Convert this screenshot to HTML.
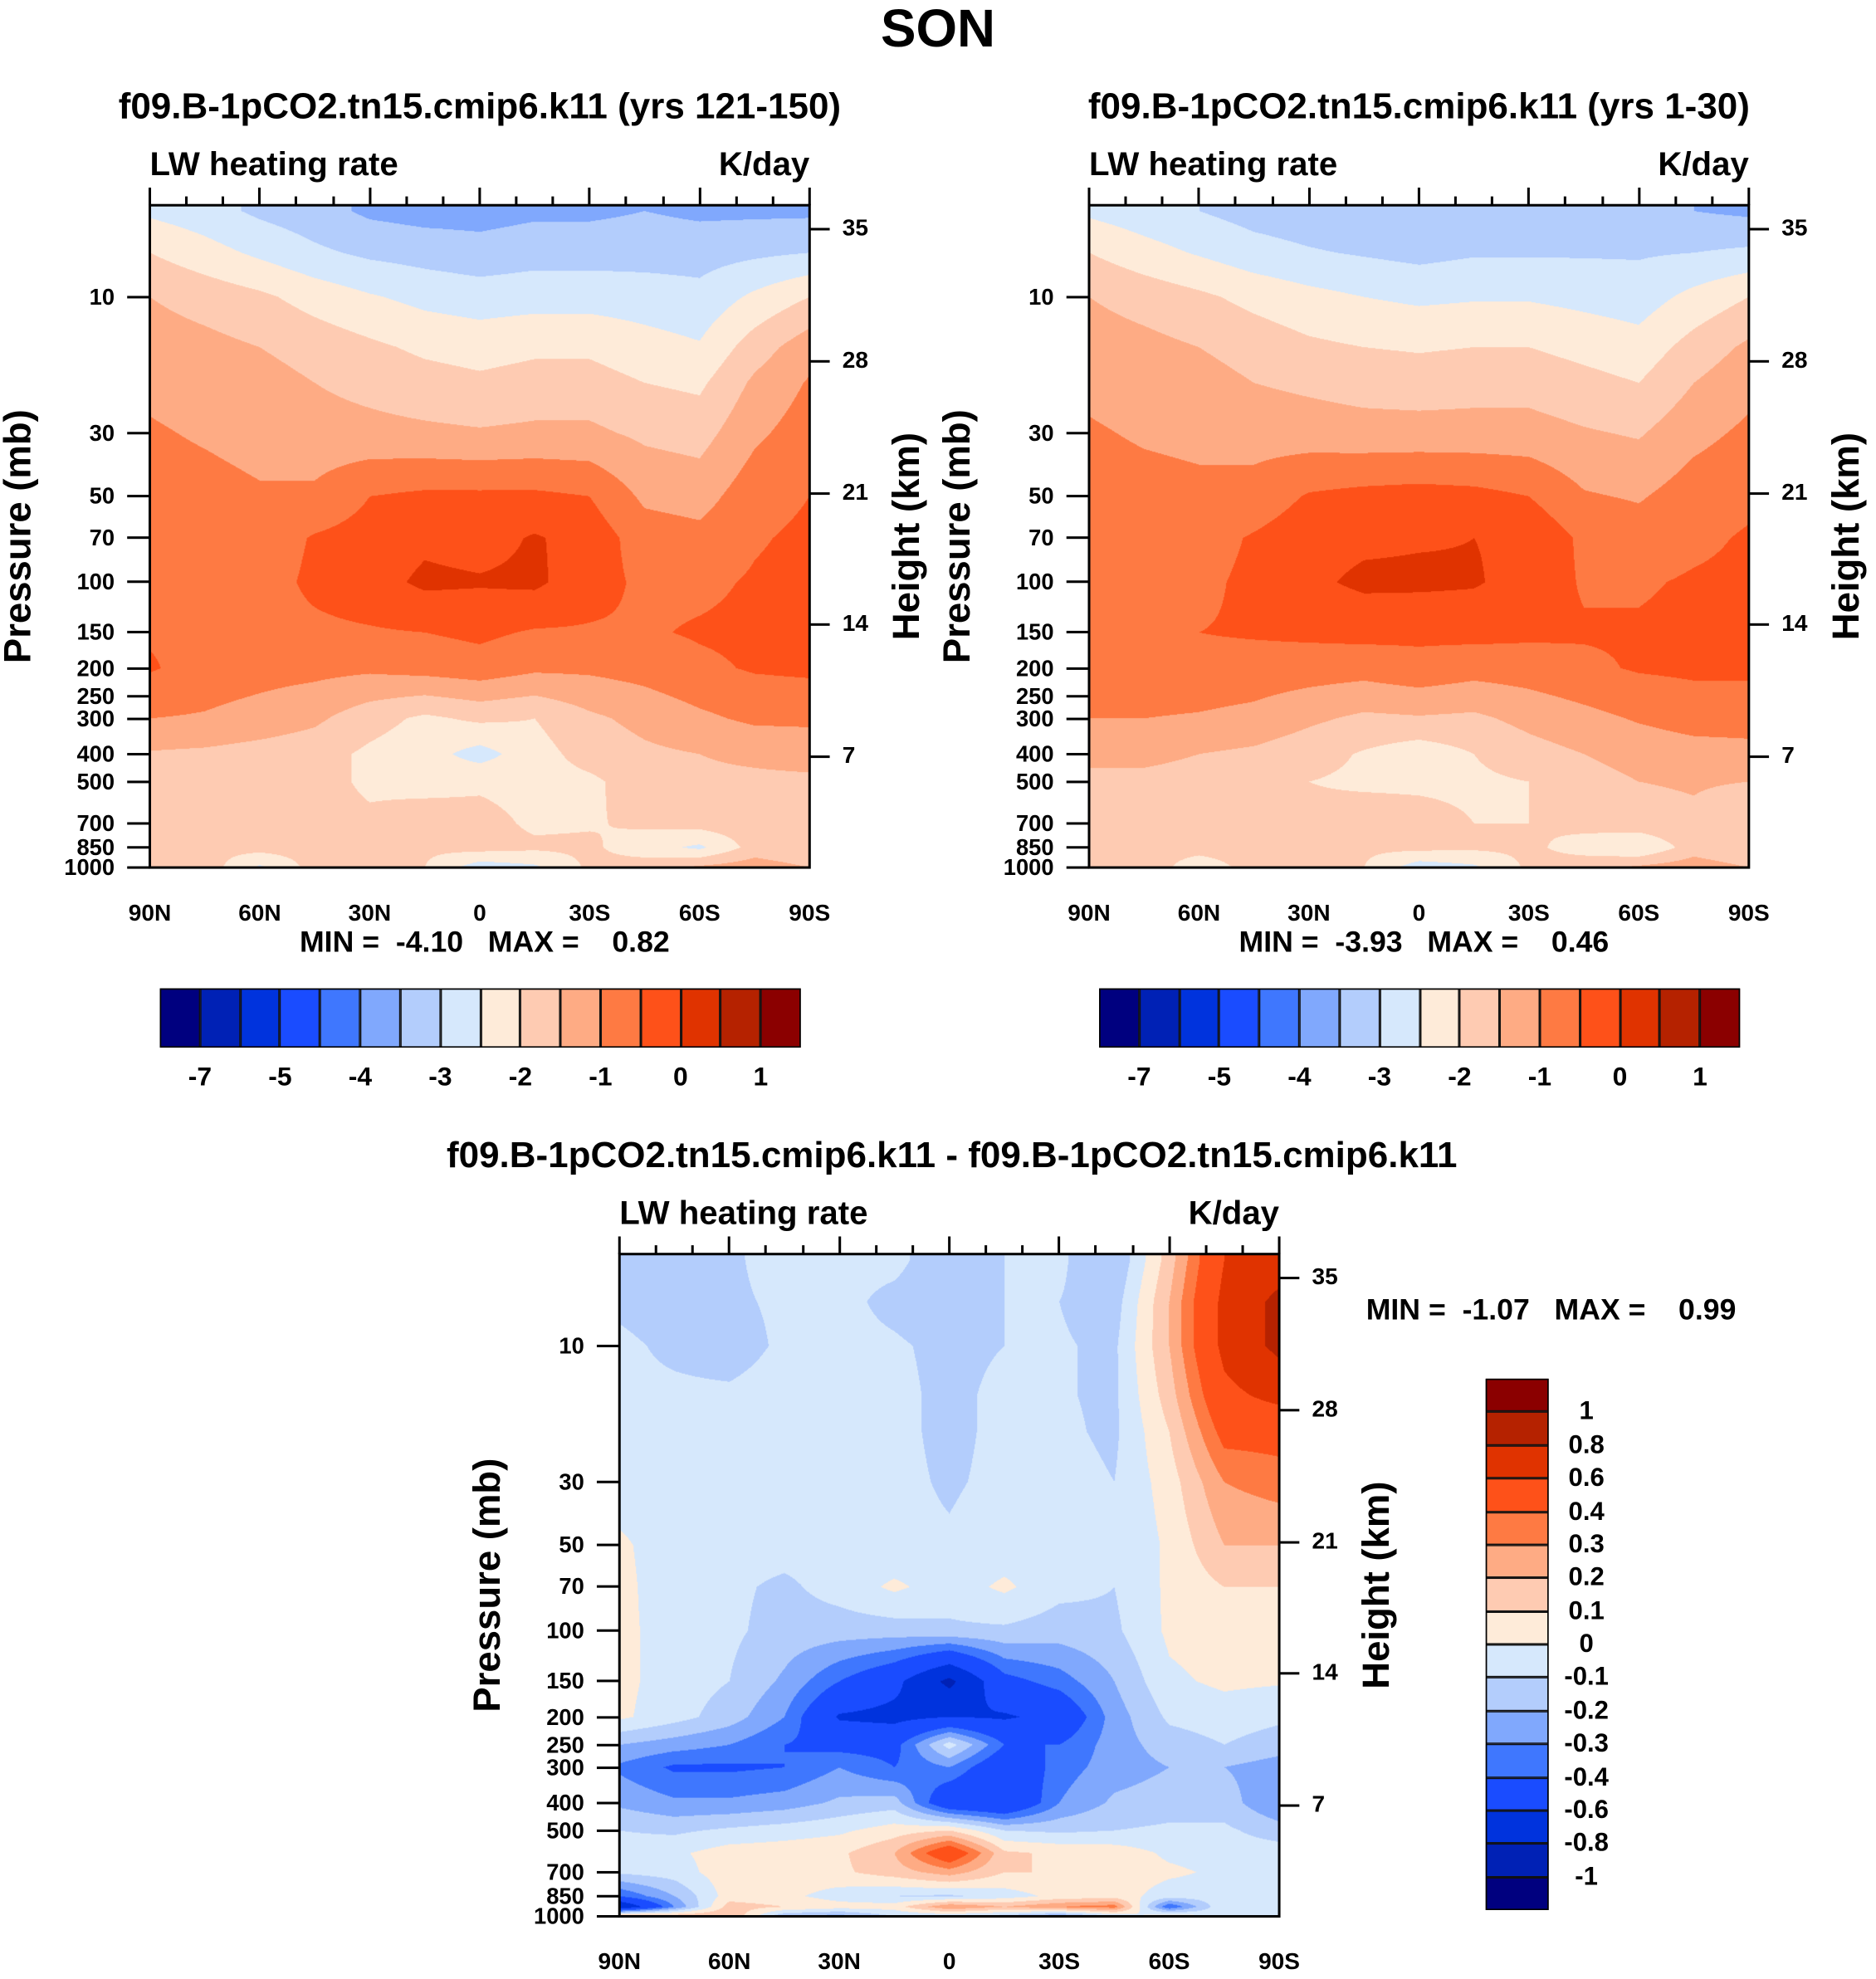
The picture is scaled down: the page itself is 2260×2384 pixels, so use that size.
<!DOCTYPE html>
<html><head><meta charset="utf-8">
<style>
html,body{margin:0;padding:0;background:#fff;}
body{width:2260px;height:2384px;overflow:hidden;position:relative;}
#root{position:absolute;left:0;top:0;width:1490px;height:1572px;transform:scale(1.516779);transform-origin:0 0;font-family:"Liberation Sans",Arial,sans-serif;font-weight:bold;color:#000;}
.t{position:absolute;white-space:pre;line-height:1;}
.frame{position:absolute;border:2px solid #000;box-sizing:border-box;}
.tick{position:absolute;background:#000;}
canvas{position:absolute;}
</style></head>
<body>
<div id="root">
  <div class="t" style="left:0;width:1490px;text-align:center;top:2px;font-size:42px">SON</div>
</div>
<script>
const C=['#00007f','#0021b5','#0033dd','#1a4cff','#3f77fe','#80a8fd','#b3cdfc','#d6e8fc','#feebd9','#fecbb2','#feab84','#fe7a43','#fe5119','#e03300','#b52200','#8b0000'];
const LEV_TOP=[-7,-6,-5,-4.5,-4,-3.5,-3,-2.5,-2,-1.5,-1,-0.5,0,0.5,1];
const LEV_DIFF=[-1,-0.8,-0.6,-0.4,-0.3,-0.2,-0.1,0,0.1,0.2,0.3,0.4,0.6,0.8,1];
const LAB_TOP=['-7','-5','-4','-3','-2','-1','0','1'];
const LAB_TOP_POS=[1,3,5,7,9,11,13,15];
const LAB_DIFF=['1','0.8','0.6','0.4','0.3','0.2','0.1','0','-0.1','-0.2','-0.3','-0.4','-0.6','-0.8','-1'];
const LATS=[90,75,60,45,30,15,0,-15,-30,-45,-60,-75,-90];
const LAT_TICKS=[90,60,30,0,-30,-60,-90];
const LAT_LABELS=['90N','60N','30N','0','30S','60S','90S'];
const P_TICKS=[10,30,50,70,100,150,200,250,300,400,500,700,850,1000];
const H_TICKS=[7,14,21,28,35];
const P1=[5,7,10,15,20,30,50,70,100,150,200,300,400,500,700,850,1000];
const F1=[
[-2.6,-2.8,-3.1,-3.3,-3.6,-3.7,-3.7,-3.6,-3.6,-3.5,-3.6,-3.6,-3.6],
[-2.0,-2.3,-2.6,-2.9,-3.1,-3.2,-3.3,-3.2,-3.2,-3.2,-3.2,-3.1,-3.0],
[-1.5,-1.7,-1.9,-2.2,-2.45,-2.65,-2.75,-2.7,-2.7,-2.75,-2.85,-2.4,-2.0],
[-1.25,-1.35,-1.5,-1.7,-1.9,-2.1,-2.2,-2.1,-2.1,-2.3,-2.45,-1.75,-1.2],
[-1.1,-1.2,-1.3,-1.5,-1.65,-1.8,-1.9,-1.8,-1.8,-2.0,-2.1,-1.4,-0.95],
[-0.95,-1.05,-1.15,-1.3,-1.35,-1.4,-1.45,-1.4,-1.4,-1.6,-1.7,-1.1,-0.75],
[-0.8,-0.85,-0.95,-0.9,-0.5,-0.4,-0.4,-0.4,-0.5,-1.1,-1.2,-0.7,-0.5],
[-0.7,-0.75,-0.8,-0.45,-0.3,-0.1,-0.2,0.05,-0.2,-0.75,-0.85,-0.55,-0.4],
[-0.6,-0.65,-0.7,-0.4,-0.2,0.1,0.05,0.1,-0.3,-0.6,-0.6,-0.45,-0.35],
[-0.55,-0.6,-0.65,-0.6,-0.55,-0.5,-0.4,-0.55,-0.55,-0.55,-0.45,-0.4,-0.35],
[-0.45,-0.7,-0.8,-0.85,-0.9,-0.8,-0.7,-0.9,-0.9,-0.8,-0.6,-0.45,-0.4],
[-1.0,-1.05,-1.2,-1.4,-1.8,-2.1,-1.9,-2.0,-1.6,-1.35,-1.1,-0.9,-0.9],
[-1.55,-1.6,-1.7,-1.8,-2.1,-2.3,-2.7,-2.2,-1.8,-1.6,-1.5,-1.4,-1.3],
[-1.7,-1.7,-1.75,-1.8,-2.1,-2.2,-2.1,-2.2,-2.1,-1.75,-1.6,-1.6,-1.6],
[-1.7,-1.75,-1.8,-1.8,-1.9,-1.7,-1.8,-2.1,-2.05,-1.9,-1.8,-1.7,-1.9],
[-2.0,-1.9,-1.8,-1.8,-1.9,-1.9,-1.8,-1.9,-1.9,-2.3,-2.6,-1.8,-2.0],
[-1.6,-1.7,-2.6,-1.8,-1.9,-2.0,-2.8,-2.6,-1.9,-1.7,-1.4,-1.2,-1.5]];
const P2=P1;
const F2=[
[-2.6,-2.8,-3.0,-3.2,-3.3,-3.4,-3.5,-3.5,-3.5,-3.4,-3.4,-3.5,-3.6],
[-2.0,-2.3,-2.55,-2.8,-2.95,-3.05,-3.15,-3.05,-3.05,-3.05,-3.05,-3.0,-2.9],
[-1.5,-1.7,-1.9,-2.15,-2.35,-2.5,-2.6,-2.55,-2.55,-2.65,-2.75,-2.35,-2.0],
[-1.25,-1.35,-1.5,-1.7,-1.9,-2.0,-2.05,-2.0,-2.0,-2.15,-2.3,-1.8,-1.4],
[-1.1,-1.2,-1.3,-1.5,-1.6,-1.7,-1.75,-1.7,-1.7,-1.85,-2.0,-1.5,-1.15],
[-0.95,-1.05,-1.1,-1.2,-1.25,-1.3,-1.3,-1.3,-1.3,-1.45,-1.55,-1.15,-0.9],
[-0.8,-0.85,-0.9,-0.8,-0.45,-0.35,-0.3,-0.35,-0.5,-0.95,-1.05,-0.75,-0.6],
[-0.7,-0.75,-0.7,-0.45,-0.2,-0.1,-0.05,0.0,-0.1,-0.6,-0.75,-0.6,-0.45],
[-0.6,-0.65,-0.6,-0.4,-0.1,0.1,0.1,0.05,-0.2,-0.55,-0.55,-0.45,-0.4],
[-0.55,-0.55,-0.5,-0.45,-0.4,-0.35,-0.4,-0.35,-0.4,-0.45,-0.45,-0.4,-0.35],
[-0.6,-0.65,-0.65,-0.7,-0.75,-0.8,-0.65,-0.8,-0.75,-0.6,-0.45,-0.4,-0.4],
[-1.0,-1.0,-1.05,-1.15,-1.4,-1.6,-1.55,-1.6,-1.35,-1.15,-0.95,-0.8,-0.8],
[-1.4,-1.4,-1.5,-1.6,-1.8,-2.05,-2.3,-2.0,-1.7,-1.5,-1.3,-1.2,-1.15],
[-1.6,-1.6,-1.65,-1.75,-2.0,-2.1,-2.1,-2.1,-2.0,-1.7,-1.5,-1.45,-1.5],
[-1.7,-1.7,-1.75,-1.75,-1.85,-1.7,-1.8,-2.0,-2.0,-1.85,-1.7,-1.6,-1.9],
[-1.9,-1.85,-1.8,-1.8,-1.85,-1.9,-1.85,-1.9,-1.9,-2.2,-2.5,-1.75,-2.0],
[-1.6,-1.7,-2.3,-1.8,-1.9,-2.0,-2.8,-2.6,-1.9,-1.7,-1.4,-1.2,-1.5]];
const P3=[5,7,10,15,20,30,50,70,100,150,200,250,300,400,500,600,700,850,925,1000];
const F3=[
[-0.15,-0.15,-0.12,-0.05,-0.08,-0.08,-0.15,-0.1,-0.08,-0.2,0.15,0.6,0.7],
[-0.12,-0.15,-0.12,-0.08,-0.08,-0.12,-0.15,-0.1,-0.1,-0.15,0.2,0.65,0.85],
[-0.08,-0.12,-0.15,-0.08,-0.08,-0.09,-0.12,-0.1,-0.09,-0.12,0.2,0.65,0.85],
[-0.08,-0.08,-0.08,-0.05,-0.07,-0.08,-0.12,-0.08,-0.09,-0.12,0.15,0.55,0.65],
[-0.07,-0.06,-0.06,-0.05,-0.06,-0.08,-0.12,-0.08,-0.08,-0.12,0.1,0.45,0.45],
[-0.06,-0.05,-0.05,-0.05,-0.06,-0.08,-0.11,-0.08,-0.06,-0.1,0.05,0.3,0.35],
[0.02,-0.06,-0.06,-0.06,-0.06,-0.08,-0.09,-0.06,-0.05,-0.1,0.02,0.2,0.2],
[0.03,-0.06,-0.08,-0.12,-0.06,0.02,-0.05,0.02,-0.07,-0.1,0.02,0.1,0.1],
[0.03,-0.05,-0.08,-0.14,-0.15,-0.15,-0.12,-0.12,-0.15,-0.12,0.02,0.05,0.05],
[0.03,-0.05,-0.1,-0.22,-0.4,-0.55,-0.85,-0.45,-0.35,-0.2,-0.02,0.02,0.01],
[0.02,-0.06,-0.15,-0.3,-0.62,-0.65,-0.6,-0.62,-0.55,-0.25,-0.08,-0.05,-0.08],
[-0.2,-0.25,-0.3,-0.4,-0.45,-0.45,-0.05,-0.4,-0.4,-0.25,-0.15,-0.1,-0.15],
[-0.32,-0.42,-0.42,-0.4,-0.3,-0.4,-0.3,-0.55,-0.35,-0.25,-0.2,-0.2,-0.25],
[-0.22,-0.28,-0.28,-0.25,-0.18,-0.15,-0.55,-0.6,-0.3,-0.18,-0.15,-0.15,-0.3],
[-0.1,-0.12,-0.08,-0.05,-0.02,0.05,0.1,-0.1,-0.12,-0.1,-0.08,-0.08,-0.15],
[-0.05,-0.02,0.05,0.06,0.08,0.2,0.55,0.12,0.08,0.06,-0.02,-0.05,-0.05],
[-0.08,-0.05,0.06,0.06,0.08,0.15,0.25,0.1,0.1,0.06,0.02,-0.02,-0.05],
[-0.4,-0.2,0.05,0.03,-0.05,-0.1,-0.12,-0.05,0.03,0.05,-0.05,-0.05,-0.05],
[-0.8,-0.3,0.15,0.1,0.05,0.05,0.3,0.2,0.3,0.35,-0.4,0.0,-0.05],
[0.3,0.2,0.2,-0.2,-0.25,-0.1,-0.1,-0.15,-0.3,-0.1,0.1,-0.05,-0.05]];

const PTOP=4.77, PBOT=1000, W=524, H=526, S=1.516779;
const root=document.getElementById('root');
function yOfP(p){return H*Math.log10(p/PTOP)/Math.log10(PBOT/PTOP);}
function xOfLat(lat){return W*(90-lat)/180;}
function hexRGB(h){return [parseInt(h.substr(1,2),16),parseInt(h.substr(3,2),16),parseInt(h.substr(5,2),16)];}
const RGB=C.map(hexRGB);
function idx(v,lev){let i=0;while(i<lev.length&&v>=lev[i])i++;return i;}
function sample(F,P,lat,p){
  const lp=Math.log10(p);let r=0;
  while(r<P.length-2&&lp>Math.log10(P[r+1]))r++;
  let ty=(lp-Math.log10(P[r]))/(Math.log10(P[r+1])-Math.log10(P[r]));ty=Math.max(0,Math.min(1,ty));
  let cx=(90-lat)/15;let c=Math.min(11,Math.floor(cx));let tx=cx-c;
  const a=F[r][c]*(1-tx)+F[r][c+1]*tx, b=F[r+1][c]*(1-tx)+F[r+1][c+1]*tx;
  return a*(1-ty)+b*ty;
}
function text(str,l,t,size,extra){
  const d=document.createElement('div');d.className='t';d.textContent=str;
  d.style.left=l+'px';d.style.top=t+'px';d.style.fontSize=size+'px';
  if(extra)Object.assign(d.style,extra);
  root.appendChild(d);return d;
}
function tick(l,t,w,h){const d=document.createElement('div');d.className='tick';d.style.left=l+'px';d.style.top=t+'px';d.style.width=w+'px';d.style.height=h+'px';root.appendChild(d);return d;}

function panel(L,T,F,P,lev,title,titleCx,key){
  const cv=document.createElement('canvas');
  
  
  const cw=Math.round(W*S), ch=Math.round(H*S);
  cv.width=cw;cv.height=ch;cv.style.left=L+'px';cv.style.top=T+'px';cv.style.width=W+'px';cv.style.height=H+'px';
  root.appendChild(cv);
  const ctx=cv.getContext('2d');const img=ctx.createImageData(cw,ch);
  for(let py=0;py<ch;py++){
    const p=PTOP*Math.pow(PBOT/PTOP,(py+0.5)/ch);
    for(let px=0;px<cw;px++){
      const lat=90-180*(px+0.5)/cw;
      const k=RGB[idx(sample(F,P,lat,p),lev)];
      const o=(py*cw+px)*4;img.data[o]=k[0];img.data[o+1]=k[1];img.data[o+2]=k[2];img.data[o+3]=255;
    }
  }
  ctx.putImageData(img,0,0);
  const fr=document.createElement('div');fr.className='frame';
  
  
  fr.style.left=(L-1)+'px';fr.style.top=(T-1)+'px';fr.style.width=(W+2)+'px';fr.style.height=(H+2)+'px';root.appendChild(fr);
  const tt=text(title,titleCx-500,T-92,29,{width:'1000px',textAlign:'center'});
  
  
  const lw=text('LW heating rate',L,T-46,26.5);
  
  
  const un=text('K/day',L+W-200,T-46,26.5,{width:'200px',textAlign:'right'});
  
  
  for(let lat=90;lat>=-90;lat-=10){
    const major=LAT_TICKS.indexOf(lat)>=0;const x=L+xOfLat(lat);
    const tk=tick(x-1,T-(major?14:7),2,major?14:7);
    
    
  }
  LAT_TICKS.forEach((lat,i)=>{
    const d=text(LAT_LABELS[i],L+xOfLat(lat)-40,T+H+27,18.5,{width:'80px',textAlign:'center'});
    
    
  });
  P_TICKS.forEach(p=>{
    const y=T+yOfP(p);
    const tk=tick(L-18,y-1,18,2);
    
    
    const d=text(String(p),L-88,y-9,18,{width:'60px',textAlign:'right'});
    
    
  });
  H_TICKS.forEach(h=>{
    const y=T+438-(h-7)/7*104.75;
    const tk=tick(L+W,y-1,16,2);
    
    
    const d=text(String(h),L+W+26,y-10,18.5);
    
    
  });
  const yl=text('Pressure (mb)',L-104-120,T+H/2-15,30,{width:'240px',textAlign:'center',transform:'rotate(-90deg)'});
  
  
  const hl=text('Height (km)',L+W+78-120,T+H/2-15,30,{width:'240px',textAlign:'center',transform:'rotate(-90deg)'});
  
  
}
function hbar(L,T,key,minmax){
  const mm=text(minmax,L+111,T-48,23.5);
  
  
  const bw=509/16;
  C.forEach((c,i)=>{
    const b=document.createElement('div');b.style.position='absolute';
    
    
    b.style.left=(L+i*bw)+'px';b.style.top=T+'px';b.style.width=bw+'px';b.style.height='47px';b.style.background=c;
    b.style.boxSizing='border-box';b.style.border='1px solid #111';root.appendChild(b);
  });
  const fr=document.createElement('div');fr.className='frame';fr.style.left=L+'px';fr.style.top=T+'px';fr.style.width='509px';fr.style.height='47px';fr.style.borderWidth='1.5px';root.appendChild(fr);
  LAB_TOP.forEach((s,i)=>{
    const d=text(s,L+LAB_TOP_POS[i]*bw-30,T+60,21,{width:'60px',textAlign:'center'});
    
    
  });
}
panel(119,163,F1,P1,LEV_TOP,'f09.B-1pCO2.tn15.cmip6.k11 (yrs 121-150)',381,'left-panel');
panel(865,163,F2,P2,LEV_TOP,'f09.B-1pCO2.tn15.cmip6.k11 (yrs 1-30)',1127,'right-panel');
panel(492,996,F3,P3,LEV_DIFF,'f09.B-1pCO2.tn15.cmip6.k11 - f09.B-1pCO2.tn15.cmip6.k11',756,'diff-panel');
hbar(127,785,'left-panel','MIN =  -4.10   MAX =    0.82');
hbar(873,785,'right-panel','MIN =  -3.93   MAX =    0.46');
const dm=text('MIN =  -1.07   MAX =    0.99',1085,1029,23.5);


(function(){
  const L=1180,T=1095,Hh=422,bh=Hh/16;
  C.forEach((c,i)=>{
    const b=document.createElement('div');b.style.position='absolute';
    
    
    b.style.left=L+'px';b.style.top=(T+(15-i)*bh)+'px';b.style.width='50px';b.style.height=bh+'px';b.style.background=c;
    b.style.boxSizing='border-box';b.style.border='1px solid #111';root.appendChild(b);
  });
  const fr=document.createElement('div');fr.className='frame';fr.style.left=L+'px';fr.style.top=T+'px';fr.style.width='50px';fr.style.height=Hh+'px';fr.style.borderWidth='1.5px';root.appendChild(fr);
  LAB_DIFF.forEach((s,i)=>{
    const d=text(s,L+52,T+(i+1)*bh-10,20.5,{width:'56px',textAlign:'center'});
    
    
  });
})();
</script>
</body></html>
